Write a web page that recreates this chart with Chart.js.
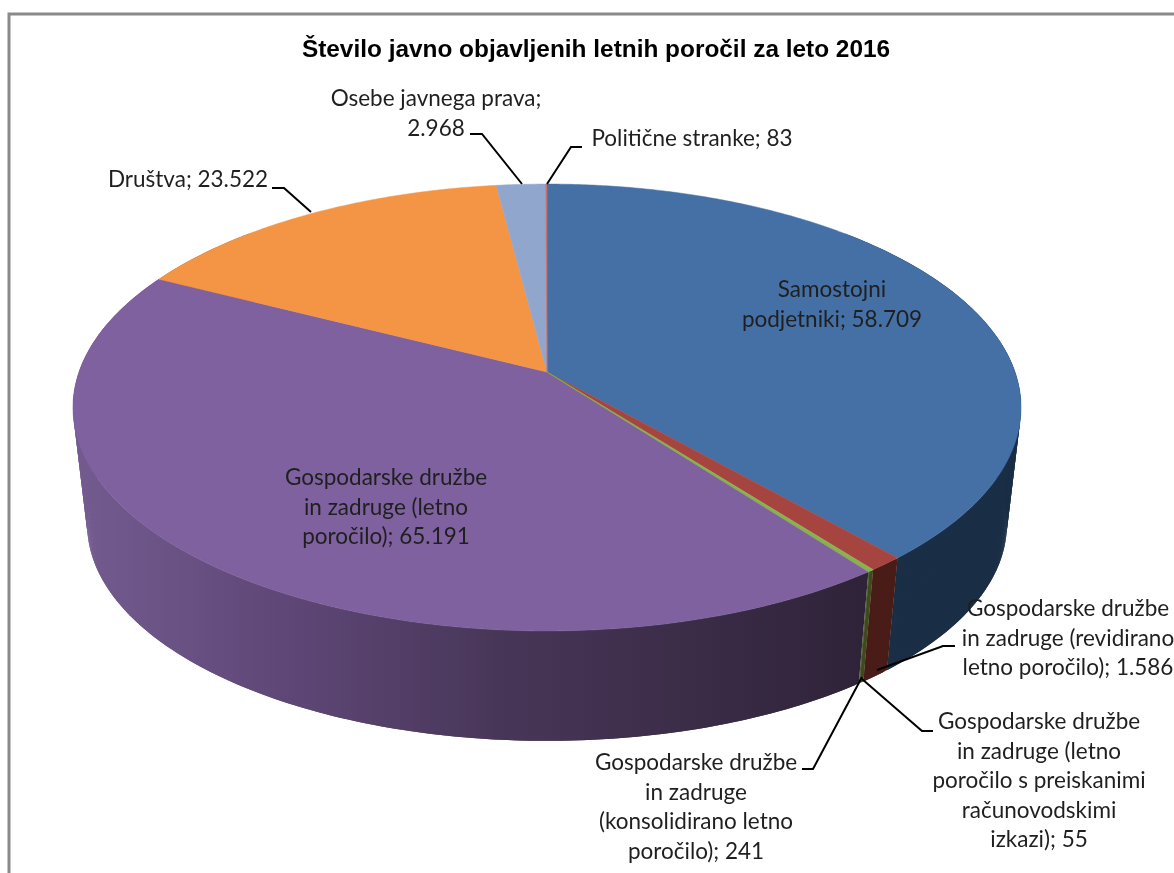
<!DOCTYPE html>
<html>
<head>
<meta charset="utf-8">
<title>Število javno objavljenih letnih poročil</title>
<script src="https://cdn.jsdelivr.net/npm/chart.js@4"></script>
<style>
    html, body { margin: 0; padding: 0; background: #fff; overflow: hidden; }
    canvas { display: block; filter: blur(0.4px); }
</style>
</head>
<body>
<canvas id="chart" width="1174" height="873"></canvas>
<script>
const titleText = "Število javno objavljenih letnih poročil za leto 2016";

const categories = [
    "Samostojni podjetniki",
    "Gospodarske družbe in zadruge (revidirano letno poročilo)",
    "Gospodarske družbe in zadruge (konsolidirano letno poročilo)",
    "Gospodarske družbe in zadruge (letno poročilo s preiskanimi računovodskimi izkazi)",
    "Gospodarske družbe in zadruge (letno poročilo)",
    "Društva",
    "Osebe javnega prava",
    "Politične stranke"
];
const values = [58709, 1586, 241, 55, 65191, 23522, 2968, 83];

const topColors = ["#4570a6", "#a6443f", "#8cb04f", "#7fa74a", "#7f619f", "#f39545", "#91a6cd", "#c9706c"];
const wallColors = ["#1a2e46", "#4a1c18", "#3f4a1e", "#3f4a1e", null, "#b0682c", "#5a6a8a", "#80403c"];

// purple wall gets lighter towards the left, like the office 3d shading
const purpleWallStops = [[87, "#725a8f"], [300, "#5d4675"], [500, "#483658"], [860, "#2f2339"]];

// text blocks next to the slices: centre x, y of first line, line list
const labelBlocks = [
    { x: 832, y: 290, lines: ["Samostojni", "podjetniki; 58.709"] },
    { x: 1068, y: 609, lines: ["Gospodarske družbe", "in zadruge (revidirano", "letno poročilo); 1.586"] },
    { x: 696, y: 763, lines: ["Gospodarske družbe", "in zadruge", "(konsolidirano letno", "poročilo); 241"] },
    { x: 1039, y: 722, lines: ["Gospodarske družbe", "in zadruge (letno", "poročilo s preiskanimi", "računovodskimi", "izkazi); 55"] },
    { x: 386, y: 478, lines: ["Gospodarske družbe", "in zadruge (letno", "poročilo); 65.191"] },
    { x: 188, y: 180, lines: ["Društva; 23.522"] },
    { x: 436, y: 99, lines: ["Osebe javnega prava;", "2.968"] },
    { x: 692, y: 139, lines: ["Politične stranke; 83"] }
];

const leaderLines = [
    [[955, 646], [943, 646], [877, 670]],
    [[802, 769], [813, 769], [862, 677]],
    [[933, 731], [922, 731], [862, 679]],
    [[272, 188], [284, 188], [311, 212]],
    [[470, 134], [482, 134], [522, 184]],
    [[582, 147], [571, 147], [547, 184]]
];

// perspective of the disc, measured on the reference
const topFace = { cx: 547, cy: 372, bx: 468, ay: 217.8, p: 0.1589 };
const bottomFace = { cx: 547, cy: 490, bx: 454, ay: 211, p: 0.1589 };

function project(face, angle) {
    const u = Math.cos(angle);
    const v = Math.sin(angle);
    const d = 1 - face.p * v;
    return [face.cx + face.bx * u / d, face.cy + face.ay * v / d];
}

function wallFill(ctx, i) {
    if (wallColors[i]) return wallColors[i];
    const grad = ctx.createLinearGradient(87, 0, 860, 0);
    purpleWallStops.forEach(([x, color]) => grad.addColorStop((x - 87) / (860 - 87), color));
    return grad;
}

function arcPoints(face, from, to, step) {
    const points = [];
    for (let a = from; a < to; a += step) points.push(project(face, a));
    points.push(project(face, to));
    return points;
}

const pie3d = {
    id: "pie3d",
    beforeDraw(chart) {
        const ctx = chart.ctx;
        ctx.save();
        ctx.strokeStyle = "#8a8a8a";
        ctx.lineWidth = 3;
        ctx.strokeRect(9, 14, 1400, 1200);
        ctx.restore();
    },
    beforeDatasetsDraw(chart) {
        const ctx = chart.ctx;
        const arcs = chart.getDatasetMeta(0).data;
        const order = arcs.map((_, i) => i).sort((a, b) => values[b] - values[a]);
        const step = Math.PI / 360;
        const wallFrom = -Math.PI / 4;
        const wallTo = Math.PI * 5 / 4;

        ctx.save();
        order.forEach(i => {
            const from = Math.max(arcs[i].startAngle, wallFrom);
            const to = Math.min(arcs[i].endAngle, wallTo);
            if (to <= from) return;
            ctx.fillStyle = wallFill(ctx, i);
            // quads overlap by one step so no seams show between them
            for (let a = from; a < to; a += step) {
                const b = Math.min(a + step * 2, to);
                const p1 = project(topFace, a);
                const p2 = project(topFace, b);
                const p3 = project(bottomFace, b);
                const p4 = project(bottomFace, a);
                ctx.beginPath();
                ctx.moveTo(p1[0], p1[1]);
                ctx.lineTo(p2[0], p2[1]);
                ctx.lineTo(p3[0], p3[1]);
                ctx.lineTo(p4[0], p4[1]);
                ctx.closePath();
                ctx.fill();
            }
        });

        order.forEach(i => {
            const outline = arcPoints(topFace, arcs[i].startAngle, arcs[i].endAngle, step);
            ctx.fillStyle = topColors[i];
            ctx.strokeStyle = topColors[i];
            ctx.lineWidth = 0.5;
            ctx.beginPath();
            ctx.moveTo(topFace.cx, topFace.cy);
            outline.forEach(([x, y]) => ctx.lineTo(x, y));
            ctx.closePath();
            ctx.fill();
            ctx.stroke();
        });
        ctx.restore();

        // library arcs are replaced by the projected ones above
        return false;
    },
    afterDraw(chart) {
        const ctx = chart.ctx;
        ctx.save();
        ctx.strokeStyle = "#000";
        ctx.lineWidth = 2;
        leaderLines.forEach(line => {
            ctx.beginPath();
            line.forEach(([x, y], i) => i ? ctx.lineTo(x, y) : ctx.moveTo(x, y));
            ctx.stroke();
        });
        ctx.fillStyle = "#1f1f1f";
        ctx.font = "22.5px Lato";
        ctx.textAlign = "center";
        ctx.textBaseline = "middle";
        labelBlocks.forEach(block => {
            block.lines.forEach((text, i) => ctx.fillText(text, block.x, block.y + i * 29.5));
        });
        ctx.restore();
    }
};

new Chart(document.getElementById("chart"), {
    type: "pie",
    data: {
        labels: categories,
        datasets: [{ data: values, backgroundColor: topColors, borderWidth: 0 }]
    },
    options: {
        responsive: false,
        animation: false,
        layout: { padding: { left: 18 } },
        plugins: {
            legend: { display: false },
            tooltip: { enabled: false },
            title: {
                display: true,
                text: titleText,
                color: "#000",
                font: { family: "'Liberation Sans'", size: 24.4, weight: "bold" },
                padding: { top: 35.5, bottom: 10 }
            }
        }
    },
    plugins: [pie3d]
});
</script>
</body>
</html>
